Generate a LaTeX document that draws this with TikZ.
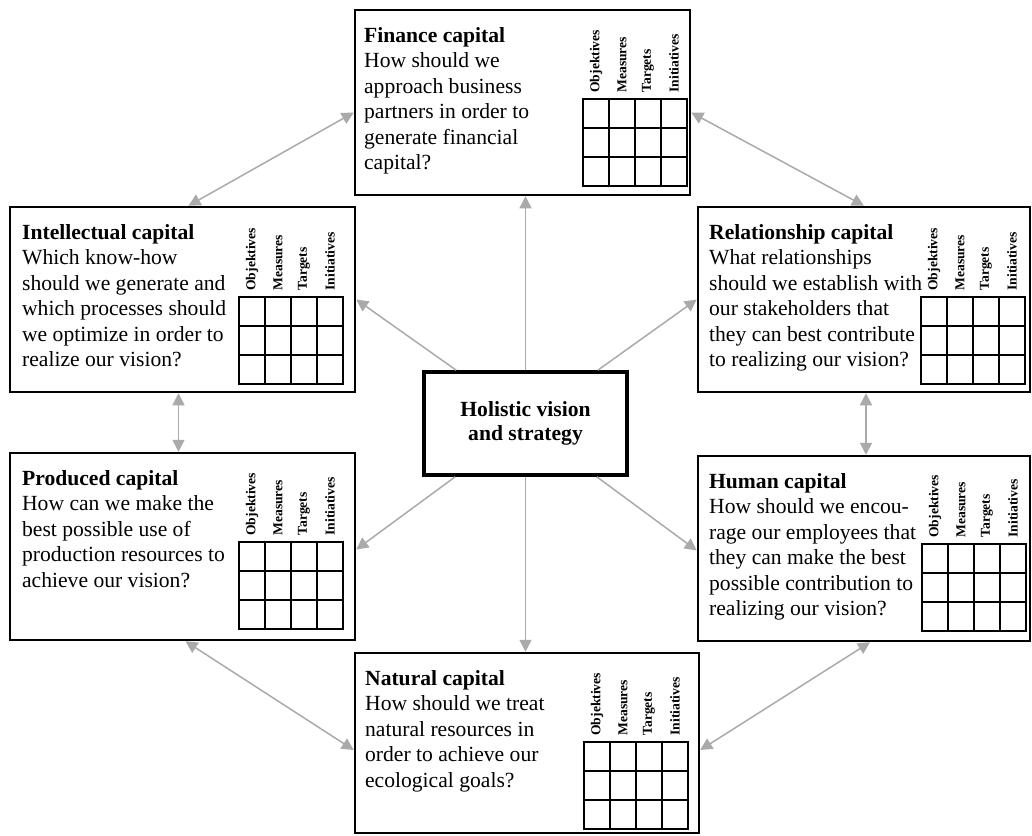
\documentclass[tikz,border=0pt]{standalone}
\usepackage{fontspec}
\setmainfont{Liberation Serif}
\usetikzlibrary{arrows.meta,positioning,calc}
\definecolor{linkgray}{RGB}{170,170,170}

\begin{document}
\begin{tikzpicture}[
x=0.5pt, y=-0.5pt,
capbox/.style={draw, line width=1.25pt, inner sep=0pt},
captext/.style={align=left, inner sep=0pt, font=\fontsize{10.8}{12.75}\selectfont},
kpilabel/.style={rotate=90, anchor=west, inner sep=0pt, font=\bfseries\fontsize{6.8}{8}\selectfont},
kpiline/.style={line width=0.9pt, line cap=rect},
link/.style={draw=linkgray, line width=0.75pt, -{Triangle[length=6pt,width=6pt]}},
both/.style={link, {Triangle[length=6pt,width=6pt]}-{Triangle[length=6pt,width=6pt]}},
]
\useasboundingbox (0,0) rectangle (1032,835);

% центр
\node[draw, line width=1.8pt, minimum width=101.5pt, minimum height=51.5pt, align=center,
font=\bfseries\fontsize{10.8}{12}\selectfont] (hol) at (525.5,423.5) {Holistic vision\\and strategy};

% капиталы
\node[capbox, minimum width=167.5pt, minimum height=92.5pt] (fin) at (522.5,102.5) {};
\node[capbox, minimum width=172.5pt, minimum height=92.5pt] (int) at (182.5,299.5) {};
\node[capbox, minimum width=166pt, minimum height=92.5pt] (rel) at (864,299.5) {};
\node[capbox, minimum width=172.5pt, minimum height=93.5pt] (prod) at (182.5,546.5) {};
\node[capbox, minimum width=166pt, minimum height=92.5pt] (hum) at (864,548.5) {};
\node[capbox, minimum width=172pt, minimum height=90pt] (nat) at (527,743) {};

\node[captext, below right=9pt and 5pt of fin.north west] (fin-txt)
{\textbf{Finance capital}\\How should we\\approach business\\partners in order to\\generate financial\\capital?};
\node[captext, below right=9pt and 6.5pt of int.north west] (int-txt)
{\textbf{Intellectual capital}\\Which know-how\\should we generate and\\which processes should\\we optimize in order to\\realize our vision?};
\node[captext, below right=9pt and 6pt of rel.north west] (rel-txt)
{\textbf{Relationship capital}\\What relationships\\should we establish with\\our stakeholders that\\they can best contribute\\to realizing our vision?};
\node[captext, below right=9pt and 6.5pt of prod.north west] (prod-txt)
{\textbf{Produced capital}\\How can we make the\\best possible use of\\production resources to\\achieve our vision?};
\node[captext, below right=9pt and 6pt of hum.north west] (hum-txt)
{\textbf{Human capital}\\How should we encou-\\rage our employees that\\they can make the best\\possible contribution to\\realizing our vision?};
\node[captext, below right=9pt and 5.5pt of nat.north west] (nat-txt)
{\textbf{Natural capital}\\How should we treat\\natural resources in\\order to achieve our\\ecological goals?};

% сетки
\coordinate (fin-grid) at (583,99);
\coordinate (int-grid) at (239,297);
\coordinate (rel-grid) at (921,297);
\coordinate (prod-grid) at (239,542);
\coordinate (hum-grid) at (922,544);
\coordinate (nat-grid) at (584,742);
\foreach \g in {fin,int,rel,prod,hum,nat}{
  \foreach \i in {0,...,4}
    \draw[kpiline] ($(\g-grid)+(\i*26,0)$) -- ++(0,87);
  \foreach \j in {0,...,3}
    \draw[kpiline] ($(\g-grid)+(0,\j*29)$) -- ++(104,0);
  \foreach \lab [count=\i] in {Objektives,Measures,Targets,Initiatives}
    \node[kpilabel] (\g-lab\i) at ($(\g-grid)+(\i*26-13,-6)$) {\lab};
}

% стрелки от центра
\draw[link] (hol.north) -- (hol.north |- fin.south);
\draw[link] (hol.south) -- (hol.south |- nat.north);
\draw[link] ($(hol.north west)+(34,0)$) -- (int.east);
\draw[link] ($(hol.north east)+(-31,0)$) -- (rel.west);
\draw[link] ($(hol.south west)+(33,0)$) -- ($(prod.east)+(0,3)$);
\draw[link] ($(hol.south east)+(-32,0)$) -- ($(hum.west)+(0,2)$);

% между капиталами
\coordinate (ip) at ($(int.south)+(-4,0)$);
\coordinate (rh) at ($(rel.south)+(2,0)$);
\draw[both] ($(fin.west)+(0,10)$) -- ($(int.north)+(6,0)$);
\draw[both] ($(fin.east)+(0,10)$) -- (rel.north);
\draw[both] (ip) -- (ip |- prod.north);
\draw[both] (rh) -- (rh |- hum.north);
\draw[both] ($(prod.south)+(3,0)$) -- ($(nat.west)+(0,7)$);
\draw[both] ($(hum.south)+(6,0)$) -- ($(nat.east)+(0,7)$);
\end{tikzpicture}
\end{document}
